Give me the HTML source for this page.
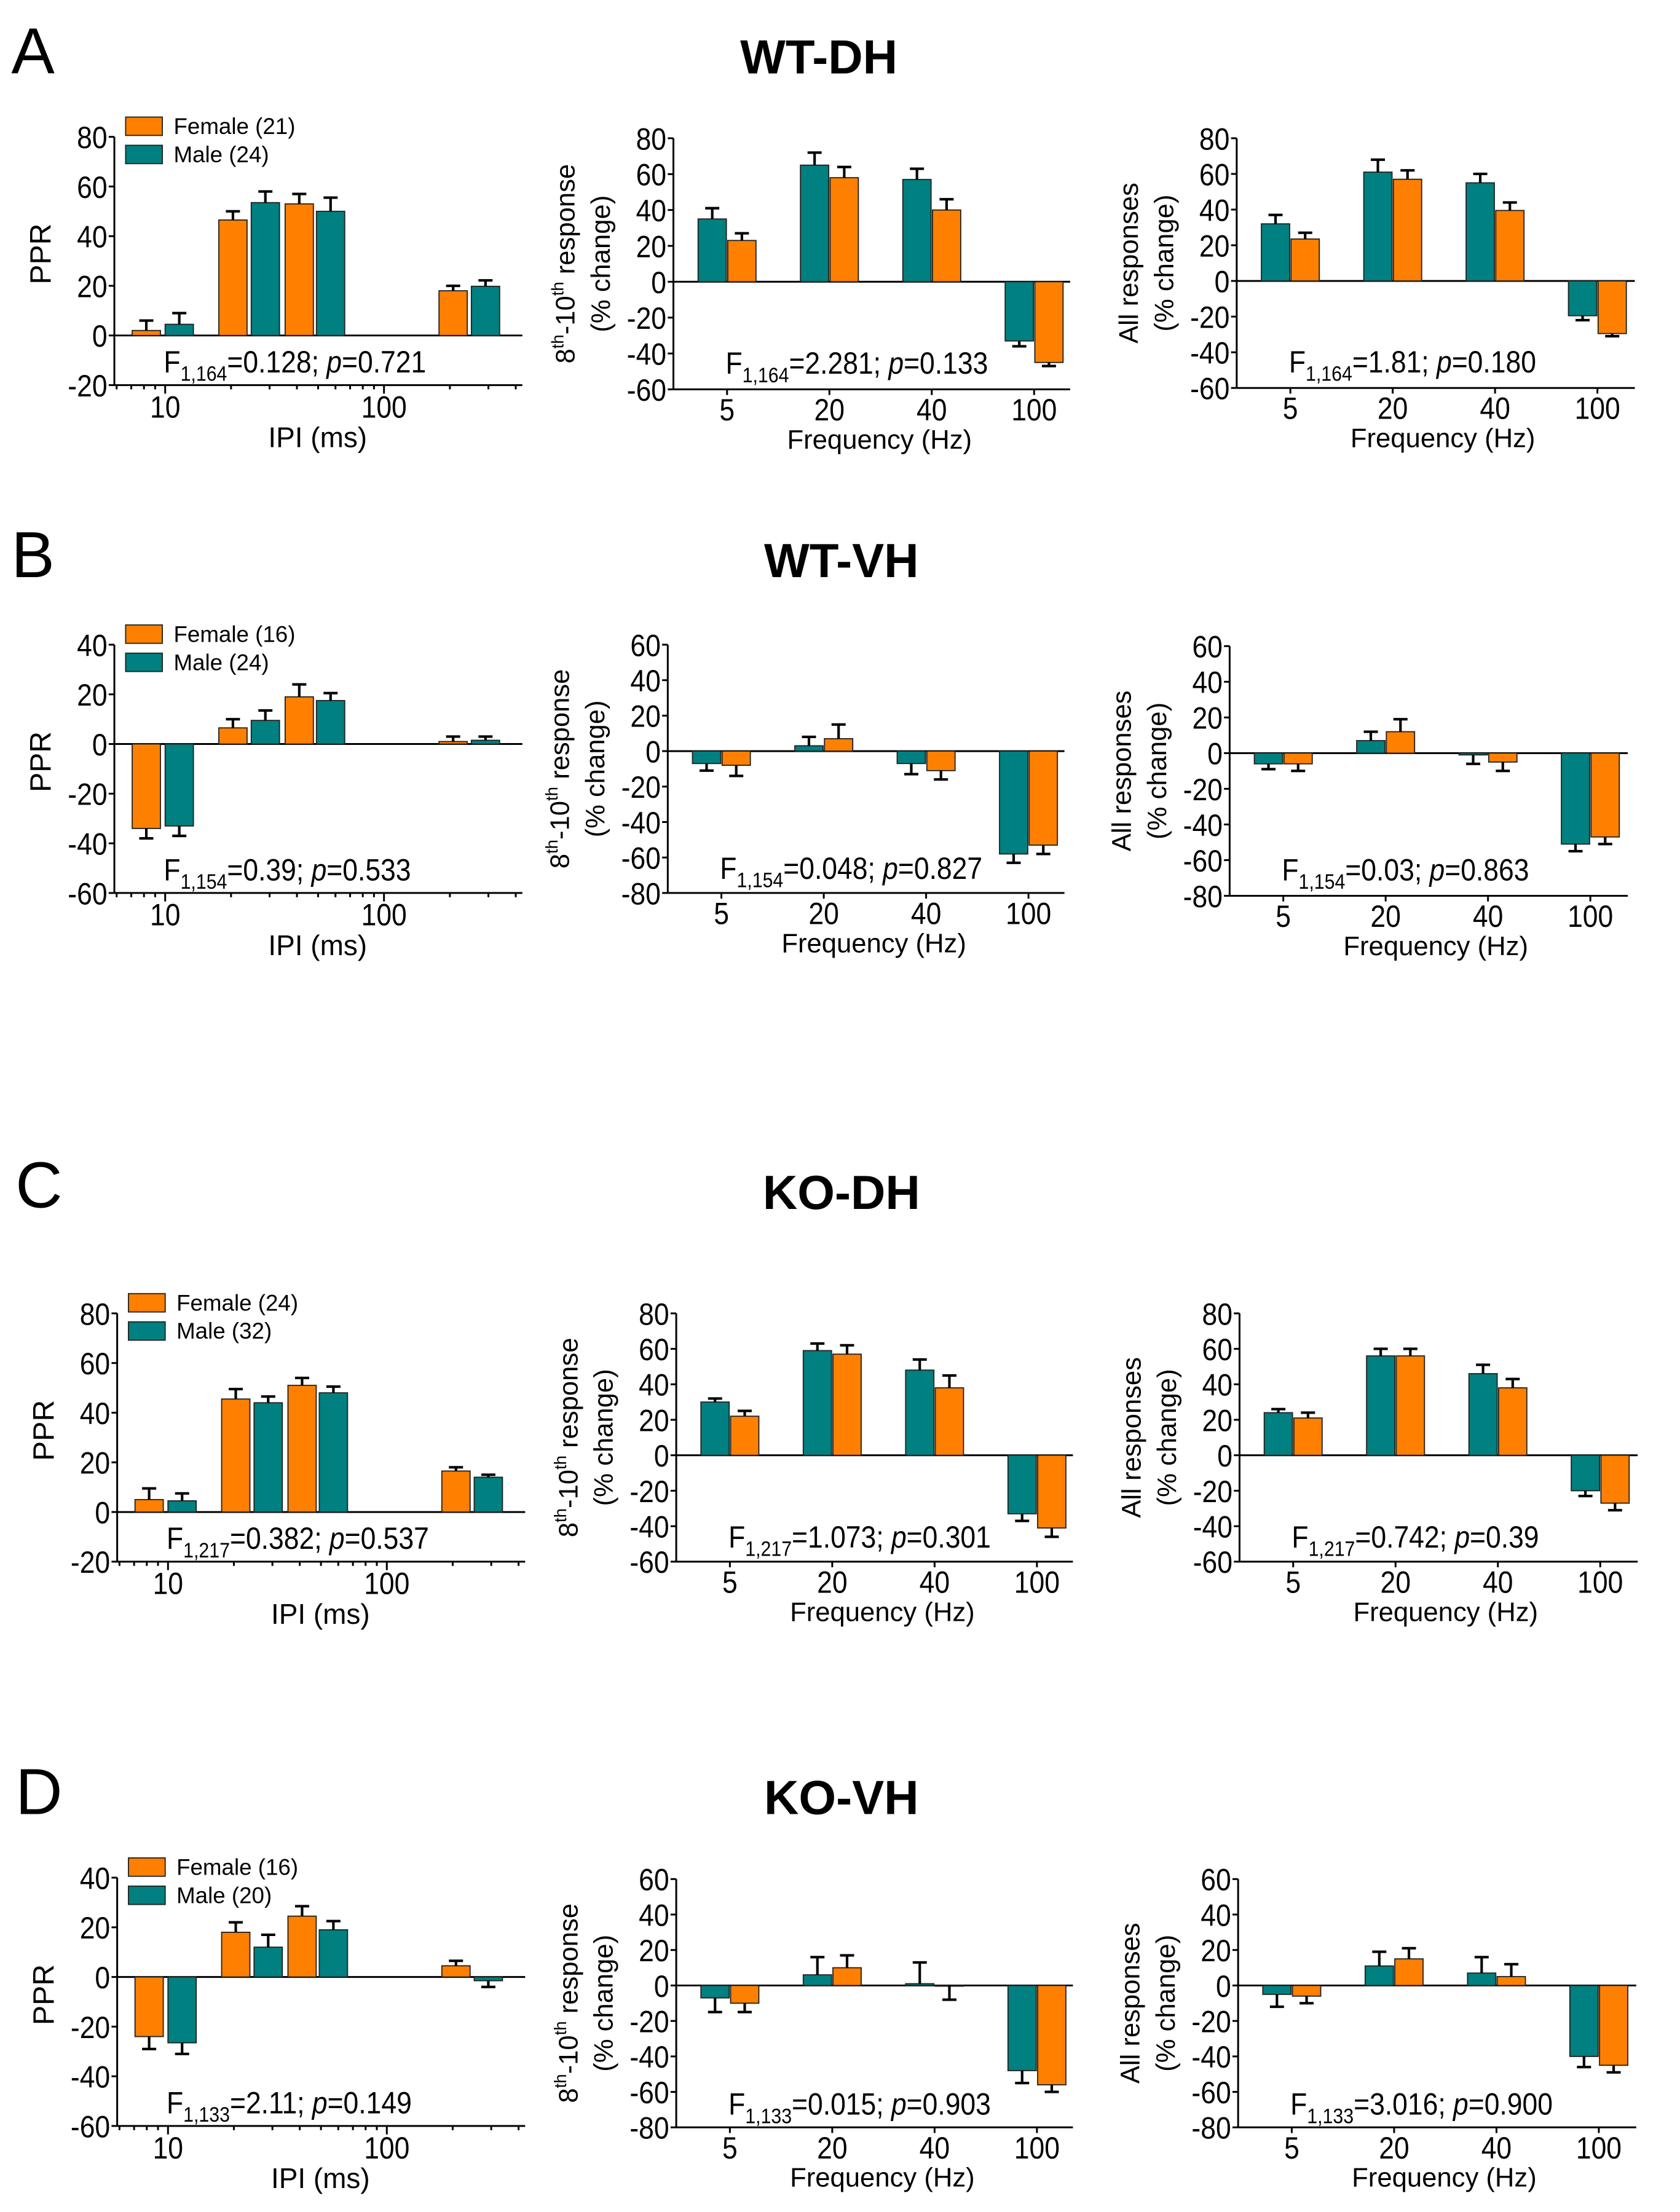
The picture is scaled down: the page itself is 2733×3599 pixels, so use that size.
<!DOCTYPE html>
<html><head><meta charset="utf-8">
<style>
html,body{margin:0;padding:0;background:#fff;}
svg{display:block;}
text{font-family:"Liberation Sans",sans-serif;fill:#000;}
</style></head>
<body>
<svg id="fig" xmlns="http://www.w3.org/2000/svg" width="2733" height="3599" viewBox="0 0 1190 1568" preserveAspectRatio="none">
<text x="8" y="52" font-size="46">A</text>
<text x="8" y="409" font-size="46">B</text>
<text x="11" y="856" font-size="46">C</text>
<text x="11" y="1286" font-size="46">D</text>
<text x="580" y="52" font-size="34" font-weight="bold" text-anchor="middle">WT-DH</text>
<text x="596" y="409" font-size="34" font-weight="bold" text-anchor="middle">WT-VH</text>
<text x="596" y="857" font-size="34" font-weight="bold" text-anchor="middle">KO-DH</text>
<text x="596" y="1286" font-size="34" font-weight="bold" text-anchor="middle">KO-VH</text>
</svg>
<script>
// ---- data ----
const freqCategories = ["5","20","40","100"];
const ipiPositions = [8.2, 11.6, 20.4, 28.7, 41, 57, 207, 291];
const ipiSex = ["F","M","F","M","F","M","F","M"];
const pprA = [2, 4.5, 46.5, 53.5, 53, 50, 18, 19.8];
const pprAErr = [6, 9, 50, 58, 57, 55.5, 20, 22.2];
const pprB = [-34, -33, 6.5, 9.5, 19, 17.5, 1, 1.5];
const pprBErr = [-38, -37, 10, 13.5, 24, 20.5, 3, 3];
const pprC = [5, 4.5, 45.5, 44, 51, 48, 16.5, 14];
const pprCErr = [9.5, 7.5, 49.5, 46.5, 54, 50.5, 18, 15];
const pprD = [-24, -26.5, 18, 12, 24.5, 19, 4.5, -1.5];
const pprDErr = [-29, -31, 22, 17, 28.5, 22.5, 6.5, -4];
const midAMale = [35, 65, 57, -33], midAMaleErr = [41, 72, 63, -36];
const midAFem = [23, 58, 40, -45], midAFemErr = [27, 64, 46, -47];
const midBMale = [-7, 3, -7, -58], midBMaleErr = [-11, 8, -13, -63];
const midBFem = [-8, 7, -11, -53], midBFemErr = [-14, 15, -16, -58];
const midCMale = [30, 59, 48, -33], midCMaleErr = [32, 63, 54, -37];
const midCFem = [22, 57, 38, -41], midCFemErr = [25, 62, 45, -46];
const midDMale = [-7, 6, 1, -48], midDMaleErr = [-15, 16, 13, -55];
const midDFem = [-10, 10, 0, -56], midDFemErr = [-15, 17, -8, -60];
const allAMale = [32, 61, 55, -19.5], allAMaleErr = [37, 68, 60, -22];
const allAFem = [23.5, 57, 39.5, -29.5], allAFemErr = [27, 62, 44, -31];
const allBMale = [-6, 7, -1, -51], allBMaleErr = [-9, 12, -6, -55];
const allBFem = [-6, 12, -5, -47], allBFemErr = [-10, 19, -10, -51];
const allCMale = [24, 56, 46, -20], allCMaleErr = [26, 60, 51, -23];
const allCFem = [21, 56, 38, -27], allCFemErr = [24, 60, 43, -31];
const allDMale = [-5, 11, 7, -40], allDMaleErr = [-12, 19, 16, -46];
const allDFem = [-6, 15, 5, -45], allDFemErr = [-10, 21, 12, -49];

const ORANGE = "#FF8000", TEAL = "#008080";
const NS = "http://www.w3.org/2000/svg";
const svg = document.getElementById('fig');
function mk(tag, attrs, parent) {
  const e = document.createElementNS(NS, tag);
  for (const k in attrs) e.setAttribute(k, attrs[k]);
  (parent || svg).appendChild(e);
  return e;
}
function line(p, x1, y1, x2, y2, w) {
  const l = mk('line', {x1: x1, y1: y1, x2: x2, y2: y2, stroke: '#000', 'stroke-width': w || 1.3}, p);
  
  
  return l;
}
function txt(p, x, y, s, size, anchor) {
  const t = mk('text', {x: x, y: y, 'font-size': size, 'text-anchor': anchor || 'middle'}, p);
  t.textContent = s;
  return t;
}
function ntxt(p, x, y, s, size, anchor) {
  const t = mk('text', {x: 0, y: 0, 'font-size': size, 'text-anchor': anchor || 'middle', transform: 'translate(' + x + ',' + y + ') scale(0.88,1)'}, p);
  t.textContent = s;
  return t;
}
function statText(p, x, y, df, fv, pv) {
  const t = mk('text', {x: 0, y: 0, 'font-size': 22, transform: 'translate(' + x + ',' + y + ') scale(0.88,1)'}, p);
  
  
  const a = mk('tspan', {}, t); a.textContent = 'F';
  const b = mk('tspan', {dy: 6, 'font-size': 15}, t); b.textContent = df;
  const c = mk('tspan', {dy: -6}, t); c.textContent = '=' + fv + '; ';
  const d = mk('tspan', {'font-style': 'italic'}, t); d.textContent = 'p';
  const e = mk('tspan', {}, t); e.textContent = '=' + pv;
}
function yAxis(g, c) {
  const y = v => c.yTop + (c.vmax - v) / (c.vmax - c.vmin) * (c.yBot - c.yTop);
  line(g, c.x0, c.yTop, c.x0, c.yBot);
  for (let v = c.vmin; v <= c.vmax; v += 20) {
    line(g, c.x0 - 4, y(v), c.x0, y(v));
    const t = ntxt(g, c.x0 - 5, y(v) + 8, String(v), 22, 'end');
    
    
  }
  line(g, c.x0, y(0), c.x1, y(0));
  line(g, c.x0, c.yBot, c.x1, c.yBot);
  return y;
}
function bar(g, cx, w, v, err, y, color, name) {
  const top = Math.min(y(v), y(0)), h = Math.abs(y(v) - y(0));
  const r = mk('rect', {x: cx - w / 2, y: top, width: w, height: Math.max(h, 0.5), fill: color, stroke: '#222', 'stroke-width': 0.8}, g);
  
  
  const eb = mk('path', {d: 'M' + cx + ' ' + y(v) + 'V' + y(err) + 'M' + (cx - 5) + ' ' + y(err) + 'H' + (cx + 5), stroke: '#000', 'stroke-width': 1.8, fill: 'none'}, g);
  
  
}
function leftPanel(c, vals, errs, legendN, stats) {
  const g = mk('g', {});
  
  
  const y = yAxis(g, c);
  const xl = ms => c.x10 + (Math.log10(ms) - 1) * 155;
  const ticks = [6,7,8,9,10,20,30,40,50,60,70,80,90,100,200,300,400];
  ticks.forEach(m => {
    const big = (m === 10 || m === 100);
    line(g, xl(m), c.yBot, xl(m), c.yBot + (big ? 6 : 3));
  });
  [10, 100].forEach(m => {
    const t = ntxt(g, xl(m), c.yBot + 23, String(m), 22);
    
    
  });
  const xt = txt(g, c.x10 + 108, c.yBot + 44, 'IPI (ms)', 20);
  
  
  const yt = txt(g, 0, 0, 'PPR', 21, 'middle');
  yt.setAttribute('transform', 'translate(' + (c.x0 - 45) + ',' + ((c.yTop + c.yBot) / 2 - 5) + ') rotate(-90)');
  
  
  ipiPositions.forEach((ms, i) => {
    bar(g, xl(ms), 20, vals[i], errs[i], y, ipiSex[i] === 'F' ? ORANGE : TEAL, ipiSex[i] === 'F' ? 'female-bar' : 'male-bar');
  });
  const lg = mk('g', {}, g);
  
  
  const r1 = mk('rect', {x: c.x0 + 8, y: c.legY, width: 26, height: 13, fill: ORANGE, stroke: '#222', 'stroke-width': 0.8}, lg);
  
  
  const t1 = txt(lg, c.x0 + 42, c.legY + 12, 'Female (' + legendN[0] + ')', 16, 'start');
  
  
  const r2 = mk('rect', {x: c.x0 + 8, y: c.legY + 20, width: 26, height: 13, fill: TEAL, stroke: '#222', 'stroke-width': 0.8}, lg);
  
  
  const t2 = txt(lg, c.x0 + 42, c.legY + 32, 'Male (' + legendN[1] + ')', 16, 'start');
  
  
  statText(g, c.x0 + 35, c.statY, stats[0], stats[1], stats[2]);
}
function catPanel(c, male, maleErr, fem, femErr, title, stats, name) {
  const g = mk('g', {});
  
  
  const y = yAxis(g, c);
  freqCategories.forEach((cat, i) => {
    const cx = c.x0 + 38 + i * 72.5;
    line(g, cx, c.yBot, cx, c.yBot + 4);
    const t = ntxt(g, cx, c.yBot + 22, cat, 22);
    
    
    bar(g, cx - 10.5, 20, male[i], maleErr[i], y, TEAL, 'male-bar');
    bar(g, cx + 10.5, 20, fem[i], femErr[i], y, ORANGE, 'female-bar');
  });
  const xt = txt(g, c.x0 + 146, c.yBot + 42, 'Frequency (Hz)', 19, 'middle');
  
  
  const cy = (c.yTop + c.yBot) / 2;
  const yt = mk('text', {'font-size': 19, 'text-anchor': 'middle', transform: 'translate(' + (c.x0 - 70) + ',' + cy + ') rotate(-90)'}, g);
  
  
  if (title === 'mid') {
    const a = mk('tspan', {}, yt); a.textContent = '8';
    const b = mk('tspan', {dy: -8, 'font-size': 12}, yt); b.textContent = 'th';
    const d = mk('tspan', {dy: 8}, yt); d.textContent = '-10';
    const e = mk('tspan', {dy: -8, 'font-size': 12}, yt); e.textContent = 'th';
    const f = mk('tspan', {dy: 8}, yt); f.textContent = ' response';
  } else {
    yt.textContent = 'All responses';
  }
  const y2 = txt(g, 0, 0, '(% change)', 19, 'middle');
  y2.setAttribute('transform', 'translate(' + (c.x0 - 45) + ',' + cy + ') rotate(-90)');
  
  
  statText(g, c.x0 + 37, c.statY, stats[0], stats[1], stats[2]);
}

leftPanel({x0:81, x1:370, x10:117, yTop:97, yBot:273, vmax:80, vmin:-20, legY:83, statY:264}, pprA, pprAErr, [21,24], ['1,164','0.128','0.721']);
catPanel({x0:477, x1:758, yTop:98, yBot:276, vmax:80, vmin:-60, statY:265}, midAMale, midAMaleErr, midAFem, midAFemErr, 'mid', ['1,164','2.281','0.133'], 'response-8-10-chart');
catPanel({x0:876, x1:1158, yTop:98, yBot:275, vmax:80, vmin:-60, statY:264}, allAMale, allAMaleErr, allAFem, allAFemErr, 'all', ['1,164','1.81','0.180'], 'all-responses-chart');
leftPanel({x0:81, x1:370, x10:117, yTop:457, yBot:633, vmax:40, vmin:-60, legY:443, statY:624}, pprB, pprBErr, [16,24], ['1,154','0.39','0.533']);
catPanel({x0:473, x1:754, yTop:457, yBot:633, vmax:60, vmin:-80, statY:623}, midBMale, midBMaleErr, midBFem, midBFemErr, 'mid', ['1,154','0.048','0.827'], 'response-8-10-chart');
catPanel({x0:871, x1:1153, yTop:458, yBot:635, vmax:60, vmin:-80, statY:624}, allBMale, allBMaleErr, allBFem, allBFemErr, 'all', ['1,154','0.03','0.863'], 'all-responses-chart');
leftPanel({x0:83, x1:372, x10:119, yTop:931, yBot:1107, vmax:80, vmin:-20, legY:917, statY:1098}, pprC, pprCErr, [24,32], ['1,217','0.382','0.537']);
catPanel({x0:479, x1:760, yTop:931, yBot:1107, vmax:80, vmin:-60, statY:1097}, midCMale, midCMaleErr, midCFem, midCFemErr, 'mid', ['1,217','1.073','0.301'], 'response-8-10-chart');
catPanel({x0:878, x1:1160, yTop:931, yBot:1107, vmax:80, vmin:-60, statY:1097}, allCMale, allCMaleErr, allCFem, allCFemErr, 'all', ['1,217','0.742','0.39'], 'all-responses-chart');
leftPanel({x0:83, x1:372, x10:119, yTop:1331, yBot:1507, vmax:40, vmin:-60, legY:1317, statY:1498}, pprD, pprDErr, [16,20], ['1,133','2.11','0.149']);
catPanel({x0:479, x1:760, yTop:1332, yBot:1508, vmax:60, vmin:-80, statY:1499}, midDMale, midDMaleErr, midDFem, midDFemErr, 'mid', ['1,133','0.015','0.903'], 'response-8-10-chart');
catPanel({x0:877, x1:1159, yTop:1332, yBot:1508, vmax:60, vmin:-80, statY:1499}, allDMale, allDMaleErr, allDFem, allDFemErr, 'all', ['1,133','3.016','0.900'], 'all-responses-chart');
</script>
</body></html>
